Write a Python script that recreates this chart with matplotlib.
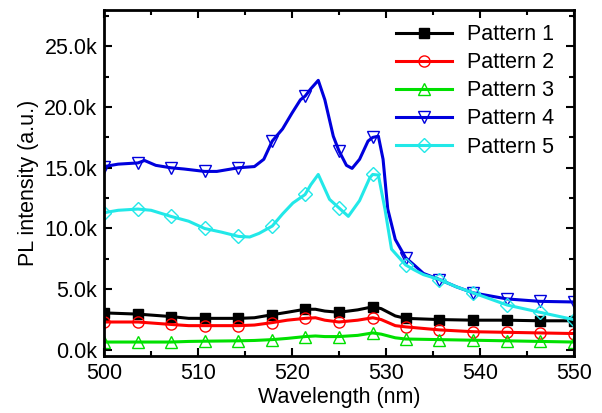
import numpy as np
import matplotlib
matplotlib.use("Agg")
import matplotlib.pyplot as plt
from matplotlib.ticker import MultipleLocator, FuncFormatter

plt.rcParams['font.family'] = ['Liberation Sans', 'DejaVu Sans']

# 标记点所在波长 (nm)
mark_wl = [500, 503.6, 507.1, 510.7, 514.3, 517.9, 521.4, 525.0, 528.6,
           532.1, 535.7, 539.3, 542.9, 546.4, 550]

# Pattern 1
wl1 = [500, 503.6, 507.1, 509, 510.7, 514.3, 516, 517.9, 519.5, 521.4, 522.5, 523.5,
       525.0, 527, 528.6, 529.5, 531, 532.1, 535.7, 539.3, 542.9, 546.4, 550]
pl1 = [3050, 2950, 2750, 2600, 2600, 2600, 2650, 2900, 3100, 3350, 3350, 3200,
       3100, 3300, 3550, 3400, 2800, 2600, 2500, 2450, 2450, 2400, 2400]
# Pattern 2
wl2 = wl1
pl2 = [2300, 2300, 2100, 2000, 2000, 2000, 2050, 2250, 2450, 2600, 2650, 2450,
       2300, 2450, 2650, 2500, 2000, 1900, 1650, 1500, 1450, 1400, 1350]
# Pattern 3
wl3 = wl1
pl3 = [650, 650, 650, 700, 720, 750, 780, 850, 950, 1100, 1150, 1100,
       1100, 1200, 1400, 1300, 1000, 900, 850, 800, 750, 700, 650]
# Pattern 4
wl4 = [500, 501.5, 503.6, 504.3, 505.5, 507.1, 508.5, 510.7, 512, 514.3, 516, 517,
       517.9, 519, 520, 520.9, 521.4, 522, 522.8, 523.5, 524.4, 525.0, 525.8, 526.4,
       527.2, 528.1, 528.6, 529.2, 529.7, 530.2, 531, 532.1, 533, 534, 535.7, 537.5,
       539.3, 542.9, 546.4, 550]
pl4 = [15100, 15300, 15400, 15600, 15200, 15000, 14900, 14700, 14700, 15000, 15100, 15700,
       17200, 18200, 19500, 20600, 20900, 21500, 22200, 20600, 17600, 16400, 15200, 14950,
       15700, 17200, 17500, 17600, 15700, 11600, 9100, 7600, 7000, 6300, 5800, 5200,
       4700, 4200, 4000, 3950]
# Pattern 5
wl5 = [500, 501.5, 503.6, 505, 507.1, 509, 510.7, 512.5, 514.3, 515.5, 516.5, 517.9,
       519, 520.1, 521.4, 522, 522.8, 524.0, 525.0, 526, 527.2, 528.3, 528.6, 529.2,
       529.9, 530.6, 532.1, 533, 534, 535.7, 537.5, 539.3, 542.9, 546.4, 550]
pl5 = [11300, 11500, 11600, 11500, 11000, 10600, 10000, 9700, 9350, 9300, 9600, 10200,
       11200, 12100, 12800, 13600, 14450, 12400, 11700, 11000, 12300, 14200, 14450, 14400,
       11600, 8300, 7000, 6600, 6200, 5800, 5200, 4700, 3700, 3100, 2500]

labels = ['Pattern 1', 'Pattern 2', 'Pattern 3', 'Pattern 4', 'Pattern 5']
colors = ['#000000', '#ff0000', '#00e000', '#0000dd', '#22e8e8']
markers = ['s', 'o', '^', 'v', 'D']
sizes = [6.5, 8, 8.5, 8.5, 7]
series = [(wl1, pl1), (wl2, pl2), (wl3, pl3), (wl4, pl4), (wl5, pl5)]

fig = plt.figure(figsize=(6.02, 4.13), dpi=100)
ax = fig.add_axes([0.173, 0.138, 0.780, 0.838])

for (wl, pl), lab, c, m, ms in zip(series, labels, colors, markers, sizes):
    wl = np.array(wl)
    idx = list(np.where(np.isin(wl, mark_wl))[0])
    face = c if m == 's' else 'none'
    ax.plot(wl, pl, color=c, lw=2.2, marker=m, markevery=idx,
            ms=ms, mfc=face, mec=c, mew=1.0, label=lab)

ax.set_xlim(500, 550)
ax.set_ylim(-500, 28000)
ax.xaxis.set_major_locator(MultipleLocator(10))
ax.xaxis.set_minor_locator(MultipleLocator(5))
ax.yaxis.set_major_locator(MultipleLocator(5000))
ax.yaxis.set_minor_locator(MultipleLocator(2500))
ax.yaxis.set_major_formatter(FuncFormatter(lambda v, p: f"{v/1000:.1f}k"))
ax.tick_params(which='both', direction='in', top=True, right=True, width=1.5, labelsize=15.5)
ax.tick_params(which='major', length=6, pad=5)
ax.tick_params(which='minor', length=3.5)
for s in ax.spines.values():
    s.set_linewidth(2)

ax.set_xlabel('Wavelength (nm)', fontsize=15.5, labelpad=2)
ax.set_ylabel('PL intensity (a.u.)', fontsize=15.5, labelpad=4)

ax.legend(loc='upper right', bbox_to_anchor=(1.0, 1.015), frameon=False, fontsize=15.5,
          handlelength=2.6, labelspacing=0.33, handletextpad=0.7, numpoints=1)

plt.savefig('out.png', dpi=100)
